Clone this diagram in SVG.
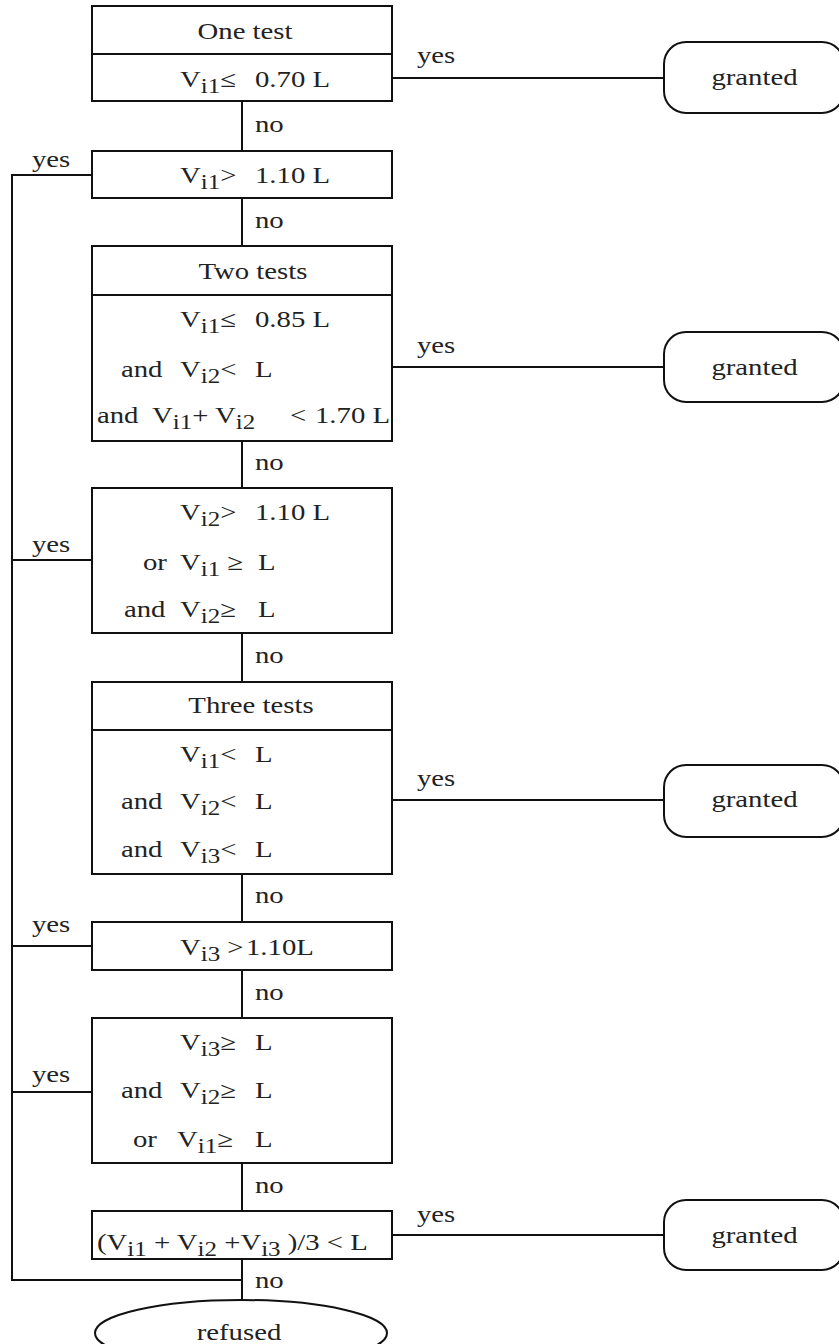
<svg xmlns="http://www.w3.org/2000/svg" width="839" height="1344" viewBox="0 0 839 1344">
<style>
.box{fill:#fff;stroke:#111;stroke-width:2}
.ln{fill:none;stroke:#111;stroke-width:2}
.t{font-family:"Liberation Serif","Times New Roman",serif;font-size:23px;fill:#222;white-space:pre}
.sub{font-size:20px}
.m{text-anchor:middle}
</style>
<rect width="839" height="1344" fill="#fff"/>
<g id="connectors">
<path class="ln" d="M242 101V151M242 198V246M242 441V488M242 633V682M242 874V922M242 970V1018M242 1163V1211M242 1259V1301"/>
<path class="ln" d="M92 175H12V1280H242M12 560H92M12 946H92M12 1092H92"/>
<path class="ln" d="M392 78H664M392 367H664M392 800H664M392 1235H664"/>
</g>
<g id="n1"><rect class="box" x="92" y="6" width="300" height="95"/><path class="ln" d="M92 54H392"/></g>
<g id="n2"><rect class="box" x="92" y="151" width="300" height="47"/></g>
<g id="n3"><rect class="box" x="92" y="246" width="300" height="195"/><path class="ln" d="M92 295H392"/></g>
<g id="n4"><rect class="box" x="92" y="488" width="300" height="145"/></g>
<g id="n5"><rect class="box" x="92" y="682" width="300" height="192"/><path class="ln" d="M92 730H392"/></g>
<g id="n6"><rect class="box" x="92" y="922" width="300" height="48"/></g>
<g id="n7"><rect class="box" x="92" y="1018" width="300" height="145"/></g>
<g id="n8"><rect class="box" x="92" y="1211" width="300" height="48"/></g>
<g id="g1"><rect class="box" x="664" y="42" width="180" height="71" rx="22"/></g>
<g id="g2"><rect class="box" x="664" y="332" width="180" height="70" rx="22"/></g>
<g id="g3"><rect class="box" x="664" y="765" width="180" height="72" rx="22"/></g>
<g id="g4"><rect class="box" x="664" y="1200" width="180" height="70" rx="22"/></g>
<g id="refused"><ellipse class="box" cx="241" cy="1333" rx="146" ry="33"/></g>
<g id="labels" transform="scale(1.25,1)">
<text class="t m" x="196" y="39">One test</text>
<text class="t" x="144" y="87">V<tspan class="sub" dy="6">i1</tspan><tspan dy="-6">≤</tspan><tspan x="204">0.70 L</tspan></text>
<text class="t" x="144" y="183">V<tspan class="sub" dy="6">i1</tspan><tspan dy="-6">&gt;</tspan><tspan x="204">1.10 L</tspan></text>
<text class="t m" x="202.4" y="279">Two tests</text>
<text class="t" x="144" y="327">V<tspan class="sub" dy="6">i1</tspan><tspan dy="-6">≤</tspan><tspan x="204">0.85 L</tspan></text>
<text class="t" x="96.8" y="377">and<tspan x="144">V</tspan><tspan class="sub" dy="6">i2</tspan><tspan dy="-6">&lt;</tspan><tspan x="204">L</tspan></text>
<text class="t" x="77.6" y="423">and<tspan x="121.6">V</tspan><tspan class="sub" dy="6">i1</tspan><tspan dy="-6">+ V</tspan><tspan class="sub" dy="6">i2</tspan><tspan dy="-6" x="232">&lt;</tspan><tspan x="252">1.70 L</tspan></text>
<text class="t" x="144" y="520">V<tspan class="sub" dy="6">i2</tspan><tspan dy="-6">&gt;</tspan><tspan x="204">1.10 L</tspan></text>
<text class="t" x="114.4" y="570">or<tspan x="144">V</tspan><tspan class="sub" dy="6">i1</tspan><tspan dy="-6"> ≥</tspan><tspan x="206.4">L</tspan></text>
<text class="t" x="99.2" y="617">and<tspan x="144">V</tspan><tspan class="sub" dy="6">i2</tspan><tspan dy="-6">≥</tspan><tspan x="206.4">L</tspan></text>
<text class="t m" x="200.8" y="713">Three tests</text>
<text class="t" x="144" y="762">V<tspan class="sub" dy="6">i1</tspan><tspan dy="-6">&lt;</tspan><tspan x="204">L</tspan></text>
<text class="t" x="96.8" y="809">and<tspan x="144">V</tspan><tspan class="sub" dy="6">i2</tspan><tspan dy="-6">&lt;</tspan><tspan x="204">L</tspan></text>
<text class="t" x="96.8" y="857">and<tspan x="144">V</tspan><tspan class="sub" dy="6">i3</tspan><tspan dy="-6">&lt;</tspan><tspan x="204">L</tspan></text>
<text class="t" x="144" y="955">V<tspan class="sub" dy="6">i3</tspan><tspan dy="-6"> &gt;</tspan><tspan x="196.8">1.10L</tspan></text>
<text class="t" x="144" y="1050">V<tspan class="sub" dy="6">i3</tspan><tspan dy="-6">≥</tspan><tspan x="204">L</tspan></text>
<text class="t" x="96.8" y="1098">and<tspan x="144">V</tspan><tspan class="sub" dy="6">i2</tspan><tspan dy="-6">≥</tspan><tspan x="204">L</tspan></text>
<text class="t" x="106.4" y="1147">or<tspan x="141.6">V</tspan><tspan class="sub" dy="6">i1</tspan><tspan dy="-6">≥</tspan><tspan x="204">L</tspan></text>
<text class="t" x="77.6" y="1250">(V<tspan class="sub" dy="6">i1</tspan><tspan dy="-6"> + V</tspan><tspan class="sub" dy="6">i2</tspan><tspan dy="-6"> +V</tspan><tspan class="sub" dy="6">i3</tspan><tspan dy="-6"> )/3 &lt; L</tspan></text>
<text class="t" x="204" y="132">no</text>
<text class="t" x="204" y="228">no</text>
<text class="t" x="204" y="470">no</text>
<text class="t" x="204" y="663">no</text>
<text class="t" x="204" y="903">no</text>
<text class="t" x="204" y="1000">no</text>
<text class="t" x="204" y="1193">no</text>
<text class="t" x="204" y="1288">no</text>
<text class="t" x="25.6" y="167">yes</text>
<text class="t" x="25.6" y="552">yes</text>
<text class="t" x="25.6" y="932">yes</text>
<text class="t" x="25.6" y="1082">yes</text>
<text class="t" x="333.6" y="63">yes</text>
<text class="t" x="333.6" y="353">yes</text>
<text class="t" x="333.6" y="786">yes</text>
<text class="t" x="333.6" y="1222">yes</text>
<text class="t m" x="603.6" y="85">granted</text>
<text class="t m" x="603.6" y="375">granted</text>
<text class="t m" x="603.6" y="807">granted</text>
<text class="t m" x="603.6" y="1243">granted</text>
<text class="t m" x="191.2" y="1340">refused</text>
</g>
</svg>
